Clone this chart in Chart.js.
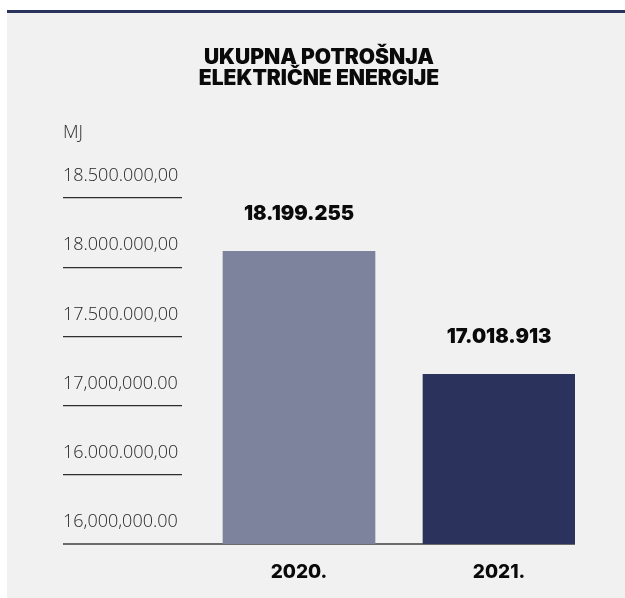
<!DOCTYPE html>
<html>
<head>
<meta charset="utf-8">
<script src="https://cdn.jsdelivr.net/npm/chart.js@4/dist/chart.umd.min.js"></script>
<style>
  html, body { margin: 0; padding: 0; background: #ffffff; }
  #wrap { width: 625px; height: 598px; position: relative; }
</style>
</head>
<body>
<div id="wrap"><canvas id="c" width="625" height="598"></canvas></div>
<script>
// ---- data ----
const titleLines = ['UKUPNA POTROŠNJA', 'ELEKTRIČNE ENERGIJE'];
const unitLabel = 'MJ';
const categories = ['2020.', '2021.'];
const consumption = [18199255, 17018913];
const yTickLabels = ['16,000,000.00', '16.000.000,00', '17,000,000.00', '17.500.000,00', '18.000.000,00', '18.500.000,00'];
const barColors = ['#7e839d', '#2b335c'];

// ---- helpers ----
function fmtThousands(n) {
  return String(n).replace(/\B(?=(\d{3})+(?!\d))/g, '.');
}

const panelBackground = {
  id: 'panelBackground',
  beforeDraw(chart) {
    const ctx = chart.ctx;
    ctx.save();
    ctx.fillStyle = '#ffffff';
    ctx.fillRect(0, 0, chart.width, chart.height);
    ctx.fillStyle = '#f1f1f1';
    ctx.fillRect(7, 13, chart.width - 7, chart.height - 13);
    ctx.fillStyle = '#2b335c';
    ctx.fillRect(7, 10, chart.width - 7, 3);
    ctx.restore();
  }
};

const valueLabels = {
  id: 'valueLabels',
  afterDatasetsDraw(chart) {
    const ctx = chart.ctx;
    const meta = chart.getDatasetMeta(0);
    ctx.save();
    ctx.font = '900 20px Inter';
    ctx.fillStyle = '#0a0a0a';
    ctx.textAlign = 'center';
    ctx.textBaseline = 'middle';
    meta.data.forEach((bar, i) => {
      ctx.fillText(fmtThousands(consumption[i]), bar.x, bar.y - 37);
    });
    ctx.restore();
  }
};

new Chart(document.getElementById('c'), {
  type: 'bar',
  data: {
    datasets: [{
      data: consumption.map((v, i) => ({ x: i, y: v })),
      backgroundColor: barColors,
      borderWidth: 0,
      barThickness: 152
    }]
  },
  options: {
    responsive: false,
    animation: false,
    devicePixelRatio: 1,
    layout: { padding: { left: 63, right: 50, top: 47.5, bottom: 0 } },
    plugins: {
      legend: { display: false },
      tooltip: { enabled: false },
      title: {
        display: true,
        text: titleLines,
        align: 'center',
        color: '#0a0a0a',
        font: { family: 'Inter', size: 21, weight: 900, lineHeight: 1.0 },
        padding: { top: 0, bottom: 0 }
      },
      subtitle: {
        display: true,
        text: unitLabel,
        align: 'start',
        color: '#2a2a2a',
        font: { family: 'Open Sans', size: 18, weight: 300, lineHeight: 1.0 },
        padding: { top: 34.5, bottom: 56 }
      }
    },
    scales: {
      x: {
        type: 'linear',
        offset: false,
        min: -0.585,
        max: 1.38,
        afterBuildTicks: (s) => { s.ticks = categories.map((c, i) => ({ value: i })); },
        afterFit: (s) => { s.height = 54; },
        ticks: {
          callback: (v) => categories[v],
          color: '#0a0a0a',
          font: { family: 'Inter', size: 19, weight: 800, lineHeight: 1.2 },
          padding: 17,
          autoSkip: false,
          maxRotation: 0
        },
        grid: { display: true, offset: false, drawOnChartArea: false, drawTicks: false, color: 'rgba(0,0,0,0)', lineWidth: 0 },
        border: { display: true, color: '#6b6b6b', width: 2 }
      },
      y: {
        min: 15390000,
        max: 18710000,
        afterBuildTicks: (s) => {
          const step = (s.max - s.min) / (yTickLabels.length - 1);
          s.ticks = yTickLabels.map((l, i) => ({ value: s.min + i * step }));
        },
        afterFit: (s) => { s.width = 119; },
        ticks: {
          callback: (v, i) => yTickLabels[i],
          crossAlign: 'far',
          labelOffset: -22,
          padding: 0,
          color: '#262626',
          font: { family: 'Open Sans', size: 18, weight: 300 },
          autoSkip: false
        },
        grid: {
          drawOnChartArea: false,
          drawTicks: true,
          tickLength: 119,
          color: (c) => c.index === 0 ? '#6b6b6b' : '#2e2e2e',
          lineWidth: (c) => c.index === 0 ? 2 : 1.3
        },
        border: { display: false }
      }
    }
  },
  plugins: [panelBackground, valueLabels]
});
</script>
</body>
</html>
